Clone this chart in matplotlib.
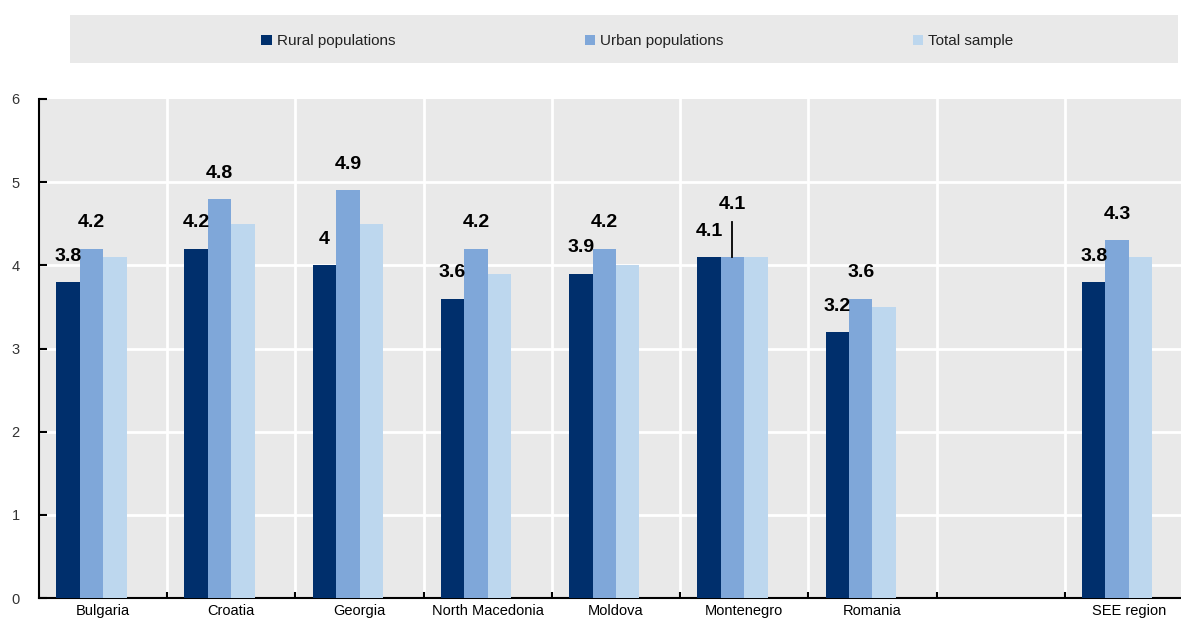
import matplotlib.pyplot as plt
import numpy as np
from matplotlib.patches import Patch

plt.rcParams['font.family'] = ['Liberation Sans', 'DejaVu Sans']

categories = ['Bulgaria', 'Croatia', 'Georgia', 'North Macedonia', 'Moldova',
              'Montenegro', 'Romania', '', 'SEE region']
rural = [3.8, 4.2, 4.0, 3.6, 3.9, 4.1, 3.2, np.nan, 3.8]
urban = [4.2, 4.8, 4.9, 4.2, 4.2, 4.1, 3.6, np.nan, 4.3]
total = [4.1, 4.5, 4.5, 3.9, 4.0, 4.1, 3.5, np.nan, 4.1]
series_names = ['Rural populations', 'Urban populations', 'Total sample']
colors = ['#002F6C', '#7FA7D9', '#BDD7EE']
bg = '#E9E9E9'

fig = plt.figure(figsize=(11.81, 6.21), dpi=100)

# legend strip
lax = fig.add_axes([70 / 1181, 1 - 63 / 621, 1108 / 1181, 48 / 621])
lax.set_facecolor(bg)
lax.set_xticks([])
lax.set_yticks([])
for s in lax.spines.values():
    s.set_visible(False)
handles = [Patch(facecolor=c, edgecolor='none') for c in colors]
lax.legend(handles, series_names, loc='center', bbox_to_anchor=(0.512, 0.45), ncol=3,
           frameon=False, fontsize=11, handlelength=0.7, handleheight=0.7,
           handletextpad=0.3, columnspacing=12.4, labelcolor='#222222')

# main plot (right edge runs past the image like the source)
ax = fig.add_axes([39 / 1181, 23 / 621, 1154 / 1181, 499 / 621])
ax.set_facecolor(bg)

x = np.arange(len(categories))
w = 0.183
offsets = [-1.5 * w, -0.5 * w, 0.5 * w]
for vals, off, c in zip([rural, urban, total], offsets, colors):
    ax.bar(x + off, vals, width=w, color=c, zorder=3, linewidth=0)

# value labels for rural and urban
for i in range(len(categories)):
    for vals, off in [(rural, offsets[0]), (urban, offsets[1])]:
        v = vals[i]
        if np.isnan(v):
            continue
        y = v + 0.31
        if categories[i] == 'Montenegro' and vals is urban:
            y = v + 0.63
            ax.plot([i + off, i + off], [v, v + 0.42], color='black', lw=1.3, zorder=4)
        ax.text(i + off, y, f'{v:g}', ha='center', va='center', fontsize=14,
                fontweight='bold', color='black', zorder=5)

ax.set_xlim(-0.5, len(categories) - 0.5)
ax.set_ylim(0, 6)
ax.set_yticks(range(0, 7))
for yv in range(1, 6):
    ax.axhline(yv, color='white', lw=2, zorder=1)
for b in np.arange(0.5, len(categories) - 0.5, 1):
    ax.axvline(b, color='white', lw=2, zorder=1)

ax.set_xticks(x)
ax.set_xticklabels(categories, fontsize=10.5)
ax.set_xticks(np.arange(0.5, len(categories) - 0.5, 1), minor=True)
ax.tick_params(axis='x', which='major', length=0, pad=4)
ax.tick_params(axis='x', which='minor', direction='in', length=4, width=1.5, color='black')
ax.tick_params(axis='y', direction='in', length=6, width=1.5, pad=14, labelsize=10.5,
               labelcolor='#333333')

for side in ['top', 'right']:
    ax.spines[side].set_visible(False)
for side in ['left', 'bottom']:
    ax.spines[side].set_linewidth(1.5)
    ax.spines[side].set_color('black')

fig.savefig('out.png', dpi=100)
